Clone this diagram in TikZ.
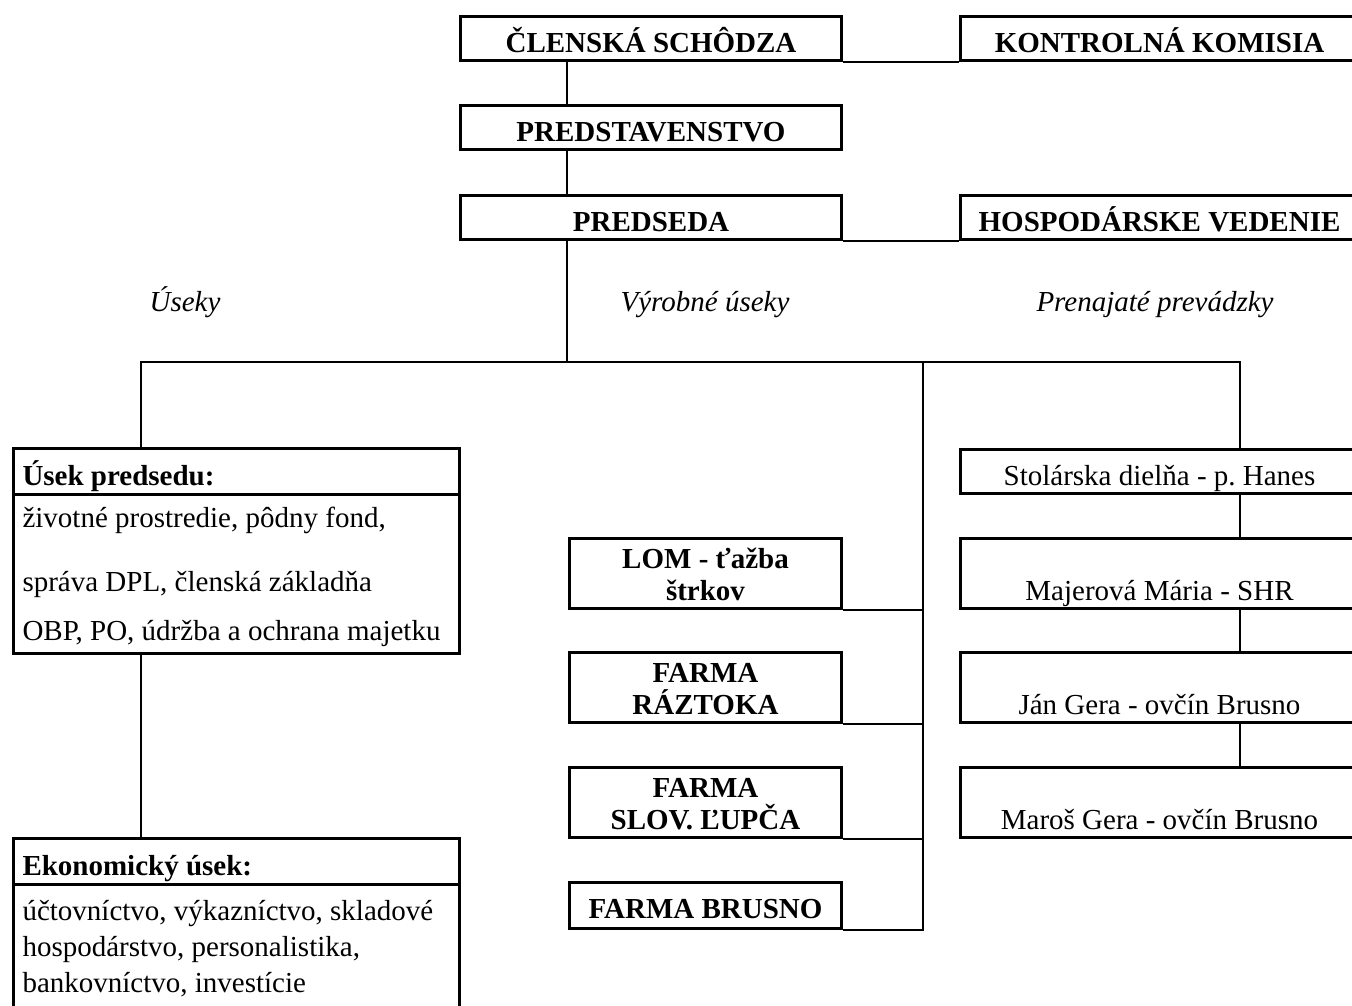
\documentclass[tikz,border=0pt]{standalone}
\usepackage{fontspec}
\setmainfont{Liberation Serif}
\frenchspacing

\begin{document}
\begin{tikzpicture}[x=0.5pt,y=-0.5pt,line width=1.4pt,
  box/.style={draw,line width=1.5pt,inner sep=0pt,anchor=north west,text depth=0pt,font=\fontsize{14.5}{16}\selectfont},
  bold/.style={font=\fontsize{14.5}{16}\selectfont\bfseries},
  one/.style={box,minimum height=22pt,text height=14pt},
  tall/.style={box,minimum height=35pt,text height=27pt},
  two/.style={text width=136pt,align=flush center,text height=15pt,text depth=20pt},
  head/.style={box,bold,minimum height=23pt,text height=14pt,text width=214pt,inner xsep=4.5pt,align=flush left},
  body/.style={box,text width=214pt,inner xsep=4.5pt,align=flush left},
  sec/.style={anchor=base,font=\fontsize{14.5}{16}\selectfont\itshape}]
\useasboundingbox (0,0) rectangle (1352,1005);
\clip (0,0) rectangle (1352,1005);
\node[one,bold,minimum width=190.5pt] (schodza) at (459,15) {ČLENSKÁ SCHÔDZA};
\node[one,bold,minimum width=199pt] (komisia) at (959,15) {KONTROLNÁ KOMISIA};
\node[one,bold,minimum width=190.5pt] (predst) at (459,104) {PREDSTAVENSTVO};
\node[one,bold,minimum width=190.5pt] (predseda) at (459,194) {PREDSEDA};
\node[one,bold,minimum width=199pt] (vedenie) at (959,194) {HOSPODÁRSKE VEDENIE};
\node[sec] (useky) at (185,312) {Úseky};
\node[sec] (vyrobne) at (705,312) {Výrobné úseky};
\node[sec] (prenajate) at (1155,312) {Prenajaté prevádzky};
\node[head] (usek) at (12,447) {Úsek predsedu:};
\node[body,text height=16.5pt,text depth=63pt] (usekbody) at (12,493) {životné prostredie, pôdny fond,\\[16pt] správa DPL, členská základňa\\[8.5pt] OBP, PO, údržba a ochrana majetku};
\node[head] (ekon) at (12,837) {Ekonomický úsek:};
\node[body,text height=18pt,text depth=48pt,font=\fontsize{14.5}{18}\selectfont] (ekonbody) at (12,883) {účtovníctvo, výkazníctvo, skladové\\ hospodárstvo, personalistika,\\ bankovníctvo, investície};
\node[tall,bold,two,minimum width=136pt] (lom) at (568,537) {LOM - ťažba\\ štrkov};
\node[tall,bold,two,minimum width=136pt] (raztoka) at (568,651) {FARMA\\ RÁZTOKA};
\node[tall,bold,two,minimum width=136pt] (lupca) at (568,766) {FARMA\\ SLOV. ĽUPČA};
\node[one,bold,minimum width=136pt,minimum height=23pt,text height=13pt] (brusno) at (568,881) {FARMA BRUSNO};
\node[one,minimum width=199pt] (stolaren) at (959,448) {Stolárska dielňa - p. Hanes};
\node[tall,minimum width=199pt] (majerova) at (959,537) {Majerová Mária - SHR};
\node[tall,minimum width=199pt] (gera) at (959,651) {Ján Gera - ovčín Brusno};
\node[tall,minimum width=199pt] (maros) at (959,766) {Maroš Gera - ovčín Brusno};
\coordinate (jL) at (141,362);
\coordinate (jM) at (567,362);
\coordinate (jF) at (923,362);
\coordinate (jR) at (1240,362);
\draw (schodza.south east) -- (komisia.south west) (predseda.south east) -- (vedenie.south west);
\draw (schodza.south -| jM) -- (predst.north -| jM) (predst.south -| jM) -- (predseda.north -| jM) (predseda.south -| jM) -- (jM);
\draw (usek.north -| jL) -- (jL) -- (jR) -- (stolaren.north -| jR);
\draw (usekbody.south -| jL) -- (ekon.north -| jL);
\draw (jF) -- (brusno.south -| jF) -- (brusno.south east);
\foreach \f in {lom,raztoka,lupca} \draw (\f.south east) -- (\f.south -| jF);
\foreach \a/\b in {stolaren/majerova,majerova/gera,gera/maros} \draw (\a.south -| jR) -- (\b.north -| jR);
\end{tikzpicture}
\end{document}
